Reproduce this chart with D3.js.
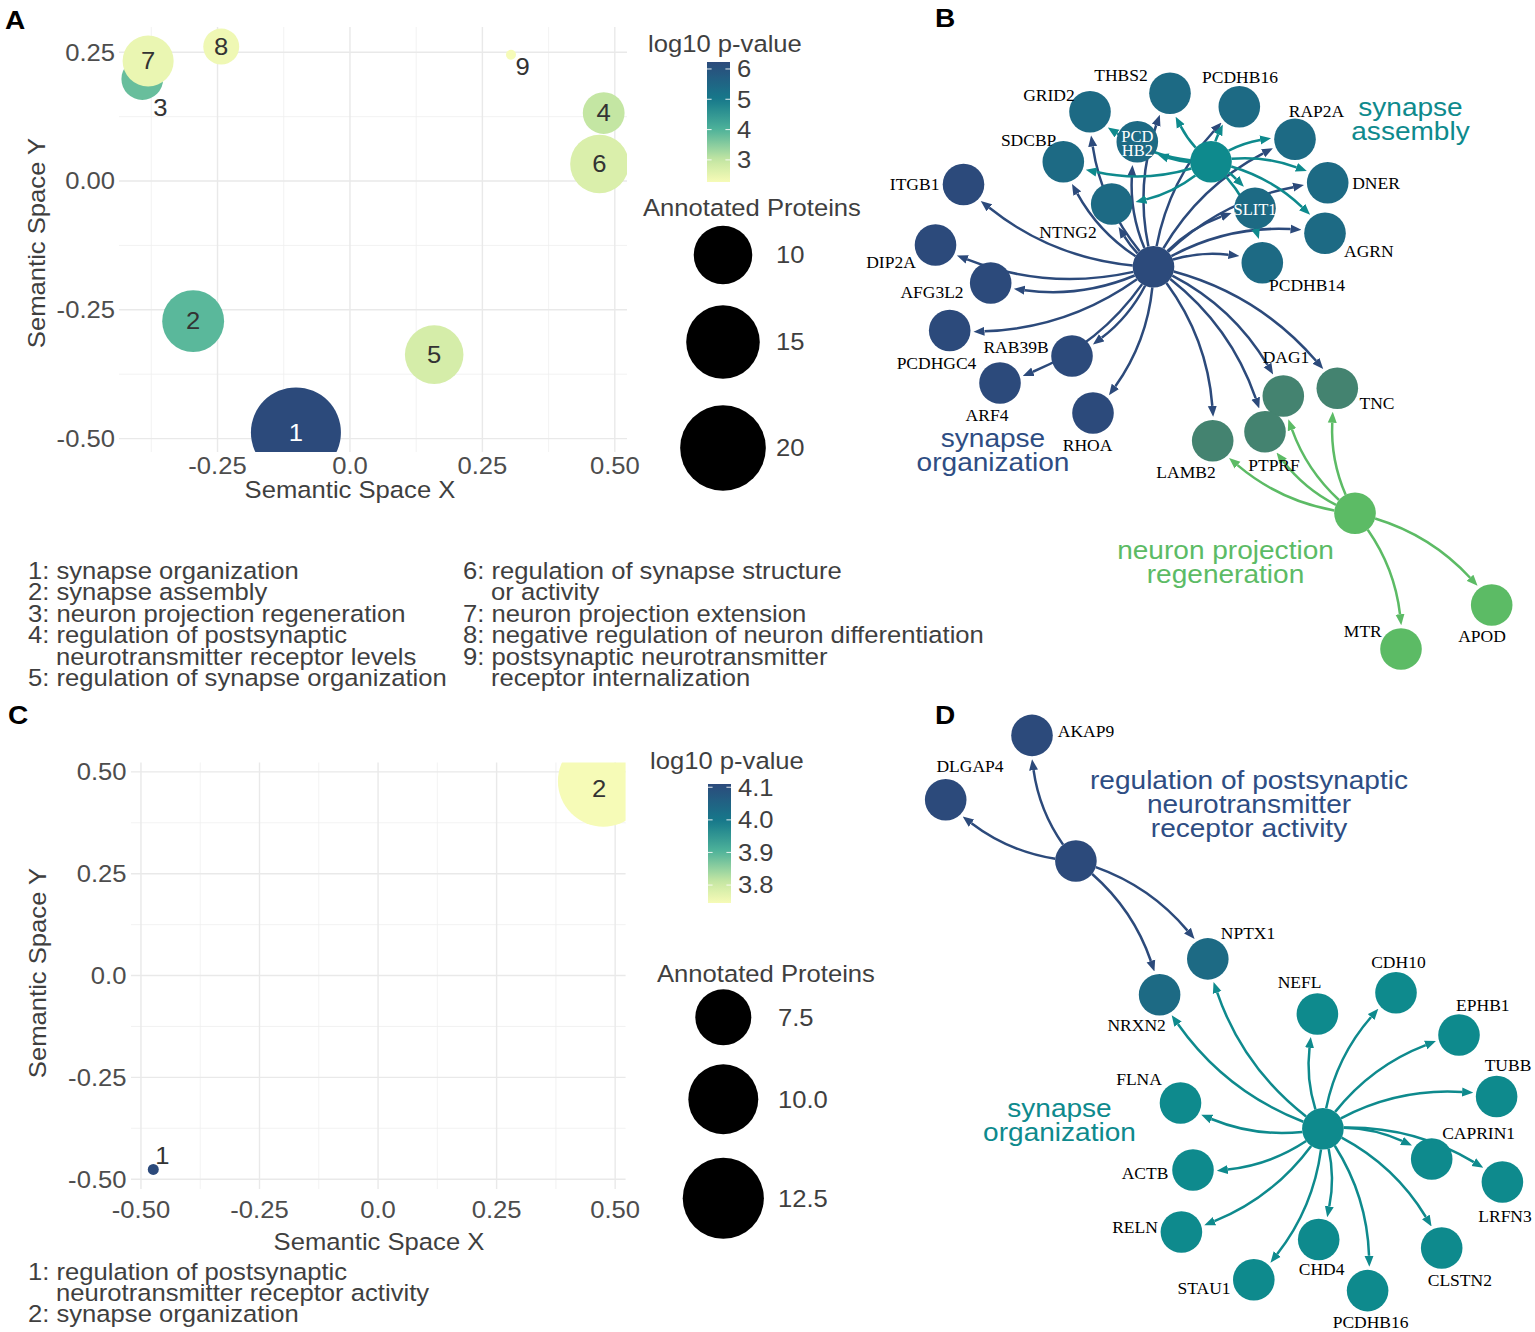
<!DOCTYPE html>
<html><head><meta charset="utf-8">
<script src="https://cdn.jsdelivr.net/npm/d3@7/dist/d3.min.js"></script>
<style>html,body{margin:0;padding:0;background:#fff;}svg{display:block;}</style>
</head><body>
<svg id="fig" width="1535" height="1332" xmlns="http://www.w3.org/2000/svg"></svg>
<script>
// ======================= DATA =======================
// Panel A : semantic space of enriched GO terms
const aTerms = [1,2,3,4,5,6,7,8,9];
const aSemX = [-0.102,-0.296,-0.392,0.479,0.159,0.471,-0.381,-0.243,0.304];
const aSemY = [-0.488,-0.272,0.198,0.132,-0.337,0.033,0.233,0.261,0.245];
const aProteins = [22,11,6,6,10,10,8,5,3];
const aLog10P = [6.23,3.90,3.78,3.00,2.76,2.68,2.45,2.38,2.27];
const aLabelX = [null,null,-0.358,null,null,null,null,null,0.326];   // repelled labels
const aLabelY = [null,null,0.142,null,null,null,null,null,0.221];
const aXTicks = [-0.25,0,0.25,0.5], aXTickLabels = ["-0.25","0.0","0.25","0.50"];
const aYTicks = [-0.5,-0.25,0,0.25], aYTickLabels = ["-0.50","-0.25","0.00","0.25"];
const aColorTicks = [3,4,5,6], aColorTickLabels = ["3","4","5","6"];
const aSizeBreaks = [10,15,20], aSizeLabels = ["10","15","20"];
const aDescCol1 = [["1: synapse organization"],["2: synapse assembly"],["3: neuron projection regeneration"],
  ["4: regulation of postsynaptic","neurotransmitter receptor levels"],["5: regulation of synapse organization"]];
const aDescCol2 = [["6: regulation of synapse structure","or activity"],["7: neuron projection extension"],
  ["8: negative regulation of neuron differentiation"],["9: postsynaptic neurotransmitter","receptor internalization"]];

// Panel C
const cTerms = [1,2];
const cSemX = [-0.474,0.475];
const cSemY = [-0.476,0.477];
const cProteins = [4,15];
const cLog10P = [4.11,3.745];
const cLabelX = [-0.455,0.466];
const cLabelY = [-0.443,0.459];
const cXTicks = [-0.5,-0.25,0,0.25,0.5], cXTickLabels = ["-0.50","-0.25","0.0","0.25","0.50"];
const cYTicks = [-0.5,-0.25,0,0.25,0.5], cYTickLabels = ["-0.50","-0.25","0.0","0.25","0.50"];
const cColorTicks = [3.8,3.9,4.0,4.1], cColorTickLabels = ["3.8","3.9","4.0","4.1"];
const cSizeBreaks = [7.5,10,12.5], cSizeLabels = ["7.5","10.0","12.5"];
const cDesc = [["1: regulation of postsynaptic","neurotransmitter receptor activity"],["2: synapse organization"]];

// Panel B : gene-concept network
const bTermNames = ["synapse organization","synapse assembly","neuron projection regeneration"];
const bTermLines = [["synapse","organization"],["synapse","assembly"],["neuron projection","regeneration"]];
const bOrgGenes = ["ITGB1","DIP2A","AFG3L2","PCDHGC4","RAB39B","ARF4","RHOA","NTNG2","SDCBP","GRID2","PCDHB2",
  "THBS2","PCDHB16","RAP2A","DNER","SLIT1","AGRN","PCDHB14","DAG1","TNC","LAMB2","PTPRF"];
const bAsmGenes = ["GRID2","THBS2","PCDHB2","PCDHB16","RAP2A","SDCBP","NTNG2","SLIT1","DNER","AGRN","PCDHB14"];
const bNprGenes = ["LAMB2","PTPRF","DAG1","TNC","MTR","APOD"];
const bInsideLabels = {"PCDHB2":["PCD","HB2"],"SLIT1":["SLIT1"]};
// network layout (panel-local layout units)
const bLayout = {
  "synapse organization":[293.5,266.7],"synapse assembly":[351,161.7],"neuron projection regeneration":[495,513.3],
  ITGB1:[103.5,184.5],DIP2A:[75.5,245],AFG3L2:[130.7,283],PCDHGC4:[89.7,330.5],RAB39B:[212,356],ARF4:[140,383],
  RHOA:[233,413],NTNG2:[251.7,204],SDCBP:[203.3,161.7],GRID2:[230,111.7],PCDHB2:[277.3,141.7],THBS2:[310,93.3],
  PCDHB16:[379.3,106.7],RAP2A:[435,139.3],DNER:[467.7,182.7],SLIT1:[395,208.3],AGRN:[465,233.3],PCDHB14:[402.3,262.7],
  DAG1:[423.3,396],TNC:[477.3,388.3],PTPRF:[405,431.7],LAMB2:[352.7,440.7],MTR:[541,649],APOD:[631.7,605]};
const bLabelLayout = {
  THBS2:[261,75],PCDHB16:[380,76.7],GRID2:[189,95],RAP2A:[456.5,110.7],SDCBP:[168.6,140],DNER:[516,182.7],
  ITGB1:[54.6,184.3],NTNG2:[208,231.7],AGRN:[508.8,250.7],DIP2A:[31,261.7],PCDHB14:[447,285],AFG3L2:[72,291.7],
  RAB39B:[156,346.7],PCDHGC4:[76.5,362.7],DAG1:[426,356.7],TNC:[517,403.3],ARF4:[127,415],RHOA:[227.5,445],
  PTPRF:[414,465],LAMB2:[326,471.7],MTR:[502.8,630.7],APOD:[622,635.7]};
const bTermLabelLayout = [[133,446.5],[550.5,116],[365.5,559]];

// Panel D
const dTermNames = ["regulation of postsynaptic neurotransmitter receptor activity","synapse organization"];
const dTermLines = [["regulation of postsynaptic","neurotransmitter","receptor activity"],["synapse","organization"]];
const dRpnGenes = ["DLGAP4","AKAP9","NPTX1","NRXN2"];
const dSoGenes = ["NRXN2","NPTX1","NEFL","CDH10","EPHB1","TUBB","CAPRIN1","LRFN3","CLSTN2","PCDHB16","CHD4","STAU1","RELN","ACTB","FLNA"];
const dLayout = {
  "regulation of postsynaptic neurotransmitter receptor activity":[195.9,161],"synapse organization":[442.9,428.7],
  AKAP9:[152,35.4],DLGAP4:[65.7,99.8],NPTX1:[327.8,258.9],NRXN2:[279.6,294.7],NEFL:[437.4,314],CDH10:[516,292.7],
  EPHB1:[579,335],TUBB:[616.6,396.5],CAPRIN1:[551.7,459],LRFN3:[622.4,482],CLSTN2:[561.7,548],PCDHB16:[487.6,590.6],
  CHD4:[438.7,539.5],STAU1:[373.8,579.7],RELN:[301.4,532],ACTB:[313,470],FLNA:[300.5,403]};
const dLabelLayout = {
  AKAP9:[206,31.4],DLGAP4:[90,66.4],NPTX1:[368,233.5],CDH10:[518.4,262.5],NEFL:[419.6,281.8],EPHB1:[602.8,304.8],
  NRXN2:[256.6,325.3],TUBB:[628,365],FLNA:[259,379.2],CAPRIN1:[598.6,433.6],ACTB:[265,473],LRFN3:[625,516],
  RELN:[255,527.4],CHD4:[441.6,569.6],CLSTN2:[579.8,579.7],STAU1:[324,588.6],PCDHB16:[490.6,622]};
const dTermLabelLayout = [[369,89],[179.5,417]];

// ======================= DRAWING =======================
const svg = d3.select('#fig');
const defs = svg.append('defs');
const SANS = '"Liberation Sans", Arial, Helvetica, sans-serif';
const SERIF = '"Liberation Serif", "Times New Roman", Times, serif';
const SX = 1.1, FS = 23.3, TXT = '#3f3f3f';

function txt(g, x, y, s, o = {}) {
  const fs = o.fs ?? FS, sx = o.sx ?? SX;
  let tr = `translate(${x},${y})`;
  if (o.rot) tr += ` rotate(${o.rot})`;
  tr += ` scale(${sx},1)`;
  return g.append('text').attr('transform', tr)
    .attr('text-anchor', o.anchor || 'start')
    .attr('font-family', o.family || SANS)
    .attr('font-size', fs)
    .attr('font-weight', o.weight || 'normal')
    .attr('fill', o.fill || TXT)
    .text(s);
}

const pvalStops = [0, 0.18, 0.44, 0.69, 1];
const pvalColors = ['#f6fbb7','#c6e7a3','#4db29a','#16798b','#2c4a7b'];
function makeColor(domain) {
  const t = d3.scaleLinear().domain(domain).range([0,1]).clamp(true);
  const c = d3.scaleLinear().domain(pvalStops).range(pvalColors).interpolate(d3.interpolateRgb);
  return v => c(t(v));
}

function bubblePanel(p) {
  const x = d3.scaleLinear().domain(p.xDomain).range(p.xRange);
  const y = d3.scaleLinear().domain(p.yDomain).range(p.yRange);
  const g = svg.append('g');
  const [x0, x1] = p.xRange, [y1, y0] = p.yRange;
  // grid
  const minor = d3.range(-1, 1.0001, 0.25).map(v => v + 0.125);
  const inX = v => v >= p.xDomain[0] && v <= p.xDomain[1];
  const inY = v => v >= p.yDomain[0] && v <= p.yDomain[1];
  const grid = g.append('g');
  minor.filter(inX).forEach(v => grid.append('line').attr('x1', x(v)).attr('x2', x(v)).attr('y1', y0).attr('y2', y1)
    .attr('stroke', '#efefef').attr('stroke-width', 0.8));
  minor.filter(inY).forEach(v => grid.append('line').attr('y1', y(v)).attr('y2', y(v)).attr('x1', x0).attr('x2', x1)
    .attr('stroke', '#efefef').attr('stroke-width', 0.8));
  p.xTicks.forEach(v => grid.append('line').attr('x1', x(v)).attr('x2', x(v)).attr('y1', y0).attr('y2', y1)
    .attr('stroke', '#e9e9e9').attr('stroke-width', 1.4));
  p.yTicks.forEach(v => grid.append('line').attr('y1', y(v)).attr('y2', y(v)).attr('x1', x0).attr('x2', x1)
    .attr('stroke', '#e9e9e9').attr('stroke-width', 1.4));
  // clip
  defs.append('clipPath').attr('id', p.id + '-clip').append('rect')
    .attr('x', x0).attr('y', y0).attr('width', x1 - x0).attr('height', y1 - y0);
  const color = makeColor(p.colorDomain);
  const sizeT = d3.scaleLinear().domain(p.sizeDomain).range([0, 1]);
  const radius = v => p.rRange[0] + (p.rRange[1] - p.rRange[0]) * Math.sqrt(Math.max(0, sizeT(v)));
  const data = p.terms.map((t, i) => ({t, x: p.semX[i], y: p.semY[i], n: p.proteins[i], lp: p.logp[i],
    lx: p.labelX[i] ?? p.semX[i], ly: p.labelY[i] ?? p.semY[i]}));
  const cg = g.append('g').attr('clip-path', `url(#${p.id}-clip)`);
  cg.selectAll('circle').data(data).join('circle')
    .attr('cx', d => x(d.x)).attr('cy', d => y(d.y)).attr('r', d => radius(d.n))
    .attr('fill', d => color(d.lp));
  data.forEach(d => {
    const light = d3.lab(color(d.lp)).l > 55;
    const outside = (d.lx !== d.x || d.ly !== d.y) && p.labelsOutside.includes(d.t);
    txt(cg, x(d.lx), y(d.ly) + 8.3, String(d.t), {anchor: 'middle', fill: (light || outside) ? '#333' : '#fff'});
  });
  // tick labels
  p.yTicks.forEach((v, i) => txt(g, p.yLabelRight, y(v) + 8.3, p.yTickLabels[i], {anchor: 'end', fill: '#4d4d4d'}));
  p.xTicks.forEach((v, i) => txt(g, x(v), p.xLabelBase, p.xTickLabels[i], {anchor: 'middle', fill: '#4d4d4d'}));
  // axis titles
  txt(g, p.xTitle[0], p.xTitle[1], 'Semantic Space X', {anchor: 'middle'});
  txt(g, p.yTitle[0], p.yTitle[1], 'Semantic Space Y', {anchor: 'middle', rot: -90});
  // colour legend
  const L = p.legend;
  txt(g, L.titleX, L.titleBase, 'log10 p-value');
  const gid = p.id + '-grad';
  const grad = defs.append('linearGradient').attr('id', gid).attr('x1', 0).attr('x2', 0).attr('y1', 1).attr('y2', 0);
  d3.range(0, 1.0001, 0.05).forEach(f => grad.append('stop').attr('offset', f)
    .attr('stop-color', color(p.colorDomain[0] + f * (p.colorDomain[1] - p.colorDomain[0]))));
  g.append('rect').attr('x', L.barX).attr('y', L.barTop).attr('width', L.barW).attr('height', L.barBottom - L.barTop)
    .attr('fill', `url(#${gid})`);
  const by = d3.scaleLinear().domain(p.colorDomain).range([L.barBottom, L.barTop]);
  p.colorTicks.forEach((v, i) => {
    [[L.barX, L.barX + L.barW / 5], [L.barX + L.barW * 4 / 5, L.barX + L.barW]].forEach(([a, b]) =>
      g.append('line').attr('x1', a).attr('x2', b).attr('y1', by(v)).attr('y2', by(v))
        .attr('stroke', '#fff').attr('stroke-width', 1.1).attr('opacity', 0.8));
    txt(g, L.barX + L.barW + 7, by(v) + 8.3, p.colorTickLabels[i]);
  });
  // size legend
  txt(g, L.sizeTitleX, L.sizeTitleBase, 'Annotated Proteins');
  p.sizeBreaks.forEach((v, i) => {
    g.append('circle').attr('cx', L.keyX).attr('cy', L.keyY[i]).attr('r', radius(v)).attr('fill', '#000');
    txt(g, L.keyLabelX, L.keyY[i] + 8.3, p.sizeLabels[i]);
  });
}

bubblePanel({
  id: 'A', terms: aTerms, semX: aSemX, semY: aSemY, proteins: aProteins, logp: aLog10P,
  labelX: aLabelX, labelY: aLabelY, labelsOutside: [3, 9],
  xDomain: [-0.436, 0.523], yDomain: [-0.526, 0.299], xRange: [119, 627], yRange: [452, 27],
  xTicks: aXTicks, xTickLabels: aXTickLabels, yTicks: aYTicks, yTickLabels: aYTickLabels,
  yLabelRight: 115, xLabelBase: 474, xTitle: [350, 498], yTitle: [45, 243],
  colorDomain: [2.27, 6.23], colorTicks: aColorTicks, colorTickLabels: aColorTickLabels,
  sizeDomain: [3, 22], rRange: [5, 45], sizeBreaks: aSizeBreaks, sizeLabels: aSizeLabels,
  legend: {titleX: 648, titleBase: 51.5, barX: 707, barW: 23, barTop: 62, barBottom: 182,
    sizeTitleX: 643, sizeTitleBase: 216, keyX: 723, keyY: [255, 342, 448], keyLabelX: 776}
});
bubblePanel({
  id: 'C', terms: cTerms, semX: cSemX, semY: cSemY, proteins: cProteins, logp: cLog10P,
  labelX: cLabelX, labelY: cLabelY, labelsOutside: [1],
  xDomain: [-0.521, 0.522], yDomain: [-0.524, 0.523], xRange: [131, 625.6], yRange: [1189, 762.5],
  xTicks: cXTicks, xTickLabels: cXTickLabels, yTicks: cYTicks, yTickLabels: cYTickLabels,
  yLabelRight: 126.5, xLabelBase: 1218.3, xTitle: [379, 1249.5], yTitle: [45.7, 973],
  colorDomain: [3.745, 4.11], colorTicks: cColorTicks, colorTickLabels: cColorTickLabels,
  sizeDomain: [4, 15], rRange: [5.5, 45.4], sizeBreaks: cSizeBreaks, sizeLabels: cSizeLabels,
  legend: {titleX: 650, titleBase: 768.5, barX: 708, barW: 23, barTop: 784, barBottom: 903,
    sizeTitleX: 657, sizeTitleBase: 982, keyX: 723.3, keyY: [1017.3, 1099.3, 1198.3], keyLabelX: 778}
});

// descriptions
function descBlock(entries, x, base0, step) {
  const g = svg.append('g');
  let k = 0;
  entries.forEach(lines => lines.forEach((s, j) => {
    txt(g, j === 0 ? x : x + 28, base0 + step * k, s);
    k++;
  }));
}
descBlock(aDescCol1, 28, 579, 21.4);
descBlock(aDescCol2, 463, 579, 21.4);
descBlock(cDesc, 28, 1279.6, 21.4);

// panel letters
[['A', 5, 28.5], ['B', 935, 27], ['C', 8, 723.5], ['D', 935, 724]].forEach(([s, x, y]) =>
  txt(svg, x, y, s, {fs: 25.5, weight: 'bold', fill: '#000', sx: 1.1}));

// ---------- networks ----------
const NAVY = '#2c4a7b', TEAL = '#0e8a8d', GREEN = '#5cbb65';
const R = 20.8, ARROW = 11, GAP = 3;

function curvePath(s, t, r0, r1, c) {
  const dx = t[0] - s[0], dy = t[1] - s[1];
  const C = [(s[0] + t[0]) / 2 + c * dy, (s[1] + t[1]) / 2 - c * dx];
  const P = (a, b) => [0, 1].map(k => (1 - a) * (1 - b) * s[k] + ((1 - a) * b + a * (1 - b)) * C[k] + a * b * t[k]);
  const dist = (p, q) => Math.hypot(p[0] - q[0], p[1] - q[1]);
  let lo = 0, hi = 1;
  for (let i = 0; i < 40; i++) { const m = (lo + hi) / 2; if (dist(P(m, m), t) > r1) lo = m; else hi = m; }
  const t1 = lo;
  lo = 0; hi = t1;
  for (let i = 0; i < 40; i++) { const m = (lo + hi) / 2; if (dist(P(m, m), s) < r0) lo = m; else hi = m; }
  const t0 = hi;
  const a = P(t0, t0), b = P(t0, t1), e = P(t1, t1);
  return `M${a[0]},${a[1]}Q${b[0]},${b[1]} ${e[0]},${e[1]}`;
}
function marker(id, color) {
  defs.append('marker').attr('id', id).attr('viewBox', '0 -5 11 10').attr('refX', 0).attr('refY', 0)
    .attr('markerWidth', 11).attr('markerHeight', 10).attr('markerUnits', 'userSpaceOnUse').attr('orient', 'auto')
    .append('path').attr('d', 'M0,-4.5L11,0L0,4.5Z').attr('fill', color);
}

function network(cfg) {
  const xs = d3.scaleLinear().domain([0, 675]).range([cfg.ox, cfg.ox + 675]);
  const ys = d3.scaleLinear().domain([0, 632]).range([cfg.oy, cfg.oy + 632]);
  const pos = n => [xs(cfg.layout[n][0]), ys(cfg.layout[n][1])];
  const g = svg.append('g');
  const eg = g.append('g'), ng = g.append('g'), lg = g.append('g');
  // membership
  const member = {};
  cfg.terms.forEach((t, ti) => t.genes.forEach(gn => (member[gn] = member[gn] || []).push(ti)));
  cfg.terms.forEach((t, ti) => {
    const mid = `${cfg.id}-arr-${ti}`;
    marker(mid, t.color);
    t.genes.forEach(gn => {
      eg.append('path').attr('d', curvePath(pos(t.name), pos(gn), R, R + GAP + ARROW, 0.2))
        .attr('fill', 'none').attr('stroke', t.color).attr('stroke-width', 2.5)
        .attr('marker-end', `url(#${mid})`);
    });
  });
  const genes = Object.keys(cfg.layout).filter(n => member[n]);
  genes.forEach(gn => {
    const ts = member[gn];
    let col = cfg.terms[ts[0]].color;
    if (ts.length > 1) col = d3.interpolateRgb(cfg.terms[ts[0]].color, cfg.terms[ts[1]].color)(0.5);
    const [cx, cy] = pos(gn);
    ng.append('circle').attr('cx', cx).attr('cy', cy).attr('r', R).attr('fill', col);
    if (cfg.inside && cfg.inside[gn]) {
      const lines = cfg.inside[gn];
      const base = lines.length > 1 ? cy : cy + 6.5;
      lines.forEach((s, j) => txt(lg, cx, base + j * 14.5, s, {family: SERIF, fs: 16.5, sx: 1, anchor: 'middle', fill: '#fff'}));
    } else if (cfg.labels[gn]) {
      txt(lg, xs(cfg.labels[gn][0]), ys(cfg.labels[gn][1]) + 5.8, gn, {family: SERIF, fs: 17.5, sx: 1, anchor: 'middle', fill: '#000'});
    }
  });
  cfg.terms.forEach((t, ti) => {
    const [cx, cy] = pos(t.name);
    ng.append('circle').attr('cx', cx).attr('cy', cy).attr('r', R).attr('fill', t.color);
    const [lx, ly] = cfg.termLabels[ti];
    t.lines.forEach((s, j) => txt(lg, xs(lx), ys(ly) + j * 24, s, {anchor: 'middle', fs: 25.5, sx: 1.1, fill: t.textColor || t.color}));
  });
}

network({
  id: 'B', ox: 860, oy: 0, layout: bLayout, labels: bLabelLayout, inside: bInsideLabels, termLabels: bTermLabelLayout,
  terms: [
    {name: bTermNames[0], lines: bTermLines[0], genes: bOrgGenes, color: NAVY, textColor: '#2e4d83'},
    {name: bTermNames[1], lines: bTermLines[1], genes: bAsmGenes, color: TEAL},
    {name: bTermNames[2], lines: bTermLines[2], genes: bNprGenes, color: GREEN}
  ]
});
network({
  id: 'D', ox: 880, oy: 700, layout: dLayout, labels: dLabelLayout, termLabels: dTermLabelLayout,
  terms: [
    {name: dTermNames[0], lines: dTermLines[0], genes: dRpnGenes, color: NAVY, textColor: '#2e4d83'},
    {name: dTermNames[1], lines: dTermLines[1], genes: dSoGenes, color: TEAL}
  ]
});
</script>
</body></html>
